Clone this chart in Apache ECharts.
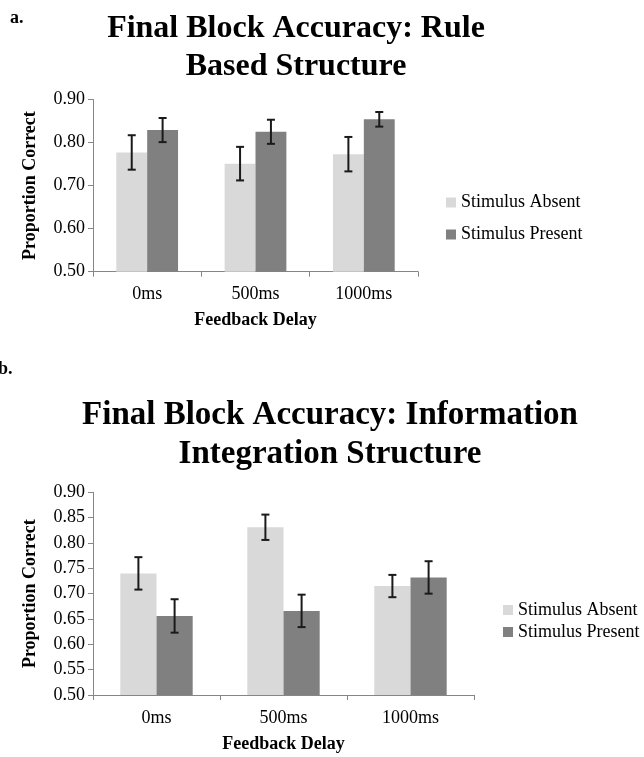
<!DOCTYPE html>
<html>
<head>
<meta charset="utf-8">
<script src="https://cdn.jsdelivr.net/npm/echarts@6/dist/echarts.min.js"></script>
<style>
  html, body { margin: 0; padding: 0; background: #fff; }
  #chart { width: 644px; height: 757px; }
</style>
</head>
<body>
<div id="chart"></div>
<script>
// Feedback delay conditions
const categories = ['0ms', '500ms', '1000ms'];

// Panel a: rule based structure (mean proportion correct and error half-widths)
const ruleAbsent = [0.777, 0.751, 0.773];
const ruleAbsentErr = [0.040, 0.039, 0.040];
const rulePresent = [0.829, 0.825, 0.854];
const rulePresentErr = [0.028, 0.028, 0.017];

// Panel b: information integration structure
const iiAbsent = [0.740, 0.831, 0.715];
const iiAbsentErr = [0.032, 0.025, 0.022];
const iiPresent = [0.656, 0.666, 0.732];
const iiPresentErr = [0.033, 0.032, 0.032];

// Value axis ranges / tick steps
const yMin = 0.5, yMax = 0.9;
const ruleStep = 0.10;
const iiStep = 0.05;

const seriesNames = ['Stimulus Absent', 'Stimulus Present'];

const FONT = "'Liberation Serif', 'Times New Roman', serif";
const AXIS_GRAY = '#868686';
const LIGHT = '#d9d9d9';
const DARK = '#808080';
const CAT_GAP = 0.43;

const chart = echarts.init(document.getElementById('chart'), null, { renderer: 'canvas' });

function errData(values, errs, side) {
  return values.map((v, i) => [i, v, errs[i], side]);
}

// Error bar with caps, centred on its bar within the category band
function renderErr(params, api) {
  const idx = api.value(0), val = api.value(1), err = api.value(2), side = api.value(3);
  const band = api.size([1, 0])[0];
  const barW = band * (1 - CAT_GAP) / 2;
  const x = api.coord([idx, val])[0] + side * barW / 2;
  const yTop = api.coord([idx, val + err])[1];
  const yBot = api.coord([idx, val - err])[1];
  const cap = 4;
  const style = { stroke: '#1a1a1a', lineWidth: 2 };
  return {
    type: 'group',
    children: [
      { type: 'line', shape: { x1: x, y1: yTop, x2: x, y2: yBot }, style },
      { type: 'line', shape: { x1: x - cap, y1: yTop, x2: x + cap, y2: yTop }, style },
      { type: 'line', shape: { x1: x - cap, y1: yBot, x2: x + cap, y2: yBot }, style }
    ]
  };
}

function xAxisCfg(gridIndex) {
  return {
    type: 'category',
    gridIndex,
    data: categories,
    name: 'Feedback Delay',
    nameLocation: 'middle',
    nameGap: 40,
    nameTextStyle: { fontFamily: FONT, fontWeight: 'bold', fontSize: 18, color: '#000' },
    axisLine: { lineStyle: { color: AXIS_GRAY, width: 1 } },
    axisTick: { show: true, length: 5, lineStyle: { color: AXIS_GRAY } },
    axisLabel: { fontFamily: FONT, fontSize: 18, color: '#000', margin: 14 },
    splitLine: { show: false }
  };
}

function yAxisCfg(gridIndex, step) {
  return {
    type: 'value',
    gridIndex,
    min: yMin,
    max: yMax,
    interval: step,
    name: 'Proportion Correct',
    nameLocation: 'middle',
    nameGap: 54,
    nameTextStyle: { fontFamily: FONT, fontWeight: 'bold', fontSize: 18, color: '#000' },
    axisLine: { show: true, lineStyle: { color: AXIS_GRAY, width: 1 } },
    axisTick: { show: true, length: 5, lineStyle: { color: AXIS_GRAY } },
    axisLabel: { fontFamily: FONT, fontSize: 18, color: '#000', margin: 8,
                 formatter: v => v.toFixed(2) },
    splitLine: { show: false }
  };
}

function barSeries(name, data, color, axisIndex) {
  return {
    type: 'bar',
    name,
    data,
    xAxisIndex: axisIndex,
    yAxisIndex: axisIndex,
    barGap: '0%',
    barCategoryGap: (CAT_GAP * 100) + '%',
    itemStyle: { color },
    emphasis: { disabled: true }
  };
}

function errSeries(values, errs, side, axisIndex) {
  return {
    type: 'custom',
    xAxisIndex: axisIndex,
    yAxisIndex: axisIndex,
    data: errData(values, errs, side),
    encode: { x: 0, y: 1 },
    renderItem: renderErr,
    z: 5,
    silent: true
  };
}

function legendCfg(left, top, gap) {
  return {
    data: seriesNames,
    orient: 'vertical',
    left, top,
    padding: 0,
    itemWidth: 10,
    itemHeight: 10,
    itemGap: gap,
    icon: 'rect',
    selectedMode: false,
    textStyle: { fontFamily: FONT, fontSize: 18, color: '#000' }
  };
}

function heading(text, x, y, size, lh) {
  return {
    type: 'text',
    x, y,
    style: {
      text,
      fontFamily: FONT,
      fontWeight: 'bold',
      fontSize: size,
      lineHeight: lh,
      fill: '#000',
      align: 'center',
      verticalAlign: 'top'
    }
  };
}

function panelLetter(text, x, y) {
  return {
    type: 'text',
    x, y,
    style: { text, fontFamily: FONT, fontWeight: 'bold', fontSize: 18, fill: '#000',
             align: 'left', verticalAlign: 'top' }
  };
}

const option = {
  backgroundColor: '#fff',
  animation: false,
  grid: [
    { left: 93, top: 99.5, width: 325, height: 172.2 },
    { left: 93, top: 492.3, width: 381, height: 202.7 }
  ],
  xAxis: [xAxisCfg(0), xAxisCfg(1)],
  yAxis: [yAxisCfg(0, ruleStep), yAxisCfg(1, iiStep)],
  legend: [legendCfg(446, 193.5, 14), legendCfg(503, 601, 4)],
  series: [
    barSeries(seriesNames[0], ruleAbsent, LIGHT, 0),
    barSeries(seriesNames[1], rulePresent, DARK, 0),
    errSeries(ruleAbsent, ruleAbsentErr, -1, 0),
    errSeries(rulePresent, rulePresentErr, 1, 0),
    barSeries(seriesNames[0], iiAbsent, LIGHT, 1),
    barSeries(seriesNames[1], iiPresent, DARK, 1),
    errSeries(iiAbsent, iiAbsentErr, -1, 1),
    errSeries(iiPresent, iiPresentErr, 1, 1)
  ],
  graphic: [
    panelLetter('a.', 10, 9),
    heading('Final Block Accuracy: Rule\nBased Structure', 296, 10, 32, 38),
    panelLetter('b.', -2, 360),
    heading('Final Block Accuracy: Information\nIntegration Structure', 330, 396, 33, 39)
  ]
};

chart.setOption(option);
</script>
</body>
</html>
